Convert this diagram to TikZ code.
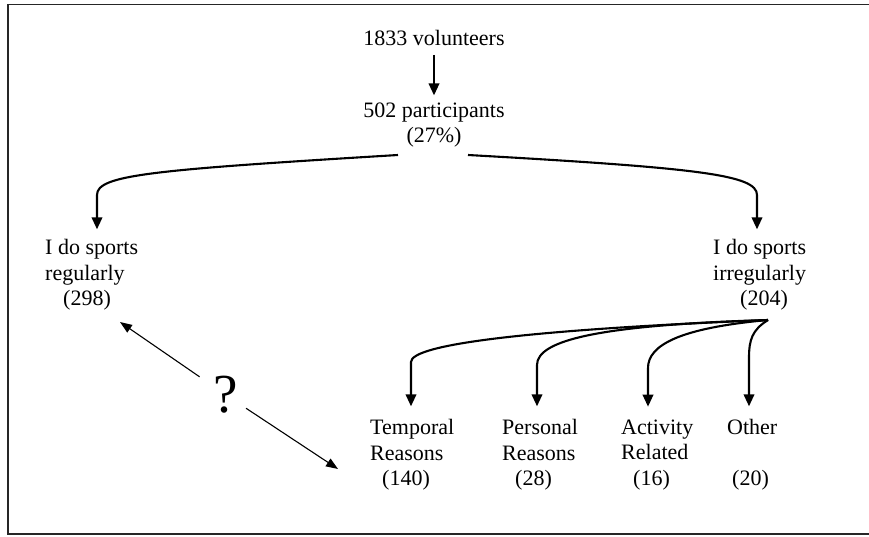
\documentclass[tikz,border=0pt]{standalone}
\usepackage{fontspec}
\setmainfont{Liberation Serif}
\usetikzlibrary{arrows.meta,calc}
\begin{document}
\begin{tikzpicture}[x=1pt,y=-1pt,
  lbl/.style={inner sep=0pt, font=\fontsize{22}{25.5}\selectfont},
  conn/.style={line width=2.1pt, -{Triangle[length=12pt,width=10.5pt]}},
  thinarrow/.style={line width=1.1pt, -{Triangle[length=12pt,width=9pt]}},
  frame/.style={line width=1.8pt, black!85}
]
\useasboundingbox (0,0) rectangle (869,537);
\draw[frame] (8,4.5) rectangle (875,534);

% nodes
\node[lbl] (vol) at (434,38) {1833 volunteers};
\node[lbl, align=center] (part) at (434,125) {502 participants\\(27\%)};
\node[lbl, align=left, anchor=west] (reg) at (45,275) {I do sports\\regularly\\\hspace*{18pt}(298)};
\node[lbl, align=left, anchor=west] (irr) at (713,275) {I do sports\\irregularly\\\hspace*{27pt}(204)};
\node[lbl, align=left, anchor=west] (temp) at (370,455) {Temporal\\Reasons\\\hspace*{12pt}(140)};
\node[lbl, align=left, anchor=west] (pers) at (502,455) {Personal\\Reasons\\\hspace*{13pt}(28)};
\node[lbl, align=left, anchor=west] (act) at (621,455) {Activity\\Related\\\hspace*{12pt}(16)};
\node[lbl, align=left, anchor=west] (oth) at (727,455) {Other\\\strut\\\hspace*{5pt}(20)};
\node[inner sep=0pt, font=\fontsize{55}{60}\selectfont] (q) at (226,395) {?};

% coordinates
\coordinate (sL) at (398,155);
\coordinate (sR) at (468,155);
\coordinate (kL) at (97,195);
\coordinate (kR) at (757,195);
\coordinate (hub) at (768,320);
\coordinate (kT) at (411,362);
\coordinate (kP) at (537,365);
\coordinate (kA) at (648,368);
\coordinate (kO) at (749,358);
\coordinate (qa) at (120,322);
\coordinate (qb) at (338,469);

% connectors
\draw[conn, shorten <=9pt, shorten >=7pt] (vol.south) -- (part.north);
\draw[conn, shorten >=10pt] (sL) .. controls (150,170) and (97,175) .. (kL) -- (kL |- reg.north);
\draw[conn, shorten >=10pt] (sR) .. controls (700,168) and (757,175) .. (kR) -- (kR |- irr.north);
\draw[conn, shorten >=13pt] (hub) .. controls (520,330) and (411,345) .. (kT) -- (kT |- temp.north);
\draw[conn, shorten >=13pt] (hub) .. controls (600,325) and (537,340) .. (kP) -- (kP |- pers.north);
\draw[conn, shorten >=13pt] (hub) .. controls (680,328) and (648,345) .. (kA) -- (kA |- act.north);
\draw[conn, shorten >=13pt] (hub) .. controls (752,330) and (749,340) .. (kO) -- (kO |- oth.north);
\draw[thinarrow, shorten <=32pt] (q.center) -- (qa);
\draw[thinarrow, shorten <=24pt] (q.center) -- (qb);
\end{tikzpicture}
\end{document}
